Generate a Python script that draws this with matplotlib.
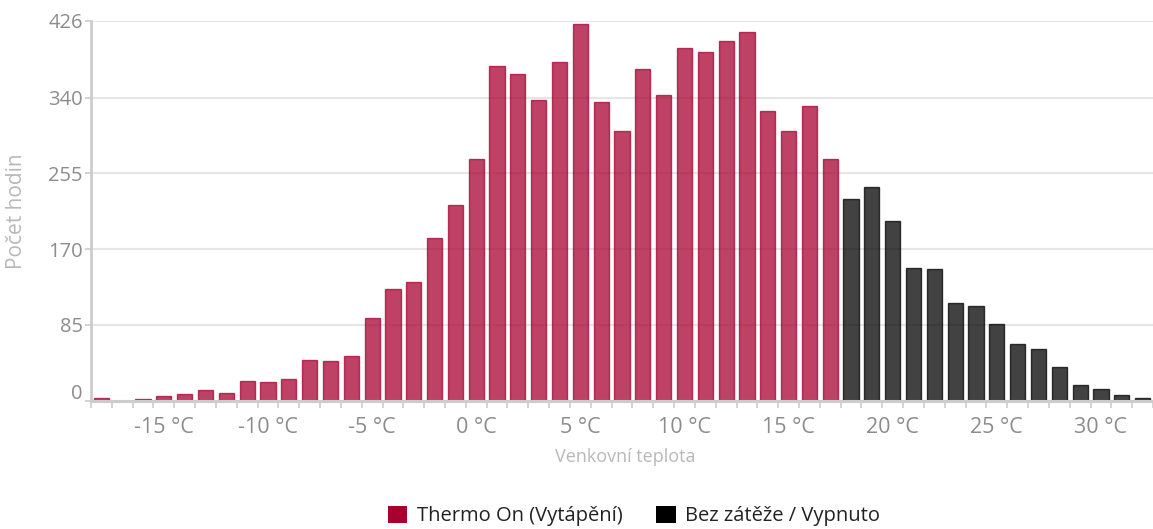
import matplotlib
matplotlib.use("Agg")
import matplotlib.pyplot as plt
from matplotlib.patches import Patch
import matplotlib.transforms as mtransforms
import numpy as np

plt.rcParams['font.family'] = ['Open Sans', 'DejaVu Sans']

temps = list(range(-18, 33))
heating_temps = list(range(-18, 18))
heating_hours = [3, 0, 2, 5, 7, 12, 9, 22, 21, 24, 46, 45, 50, 93, 125, 133, 183, 219,
                 271, 376, 367, 337, 380, 423, 335, 303, 372, 343, 396, 391, 404, 414,
                 325, 303, 331, 271]
off_temps = list(range(18, 33))
off_hours = [226, 240, 202, 149, 148, 109, 106, 86, 64, 58, 38, 17, 13, 6, 3]

y_ticks = [0, 85, 170, 255, 340, 426]
x_label_temps = [-15, -10, -5, 0, 5, 10, 15, 20, 25, 30]
x_tick_labels = [f"{t} °C" for t in x_label_temps]

series_names = ["Thermo On (Vytápění)", "Bez zátěže / Vypnuto"]
red = "#A8002F"
black = "#000000"

W, H = 1153, 529
fig = plt.figure(figsize=(W / 100, H / 100), dpi=100)
ax = fig.add_axes([91 / W, (H - 400.6) / H, 1 - 91 / W, (400.6 - 21) / H])

idx = {t: i for i, t in enumerate(temps)}
hx = [idx[t] for t in heating_temps]
ox = [idx[t] for t in off_temps]
bw = 0.73
ax.bar(hx, heating_hours, width=bw, color=red, alpha=0.74, edgecolor=red, linewidth=1.0, zorder=3)
ax.bar(ox, off_hours, width=bw, color=black, alpha=0.74, edgecolor=black, linewidth=1.0, zorder=3)

ax.set_xlim(-0.5, (W - 101.1) / 20.956)
ax.set_ylim(0, 426)

ax.set_yticks(y_ticks)
ax.set_yticklabels([str(v) for v in y_ticks])
ax.yaxis.grid(True, color="#E6E6E6", linewidth=1.5, zorder=0)
ax.tick_params(axis='y', length=4, width=1.2, color="#CCCCCC", pad=2,
               labelsize=14.5, labelcolor="#8C8C8C")
lbl0 = ax.get_yticklabels()[0]
lbl0.set_transform(lbl0.get_transform() + mtransforms.ScaledTranslation(0, 9 / 100, fig.dpi_scale_trans))

ax.set_xticks([idx[t] for t in x_label_temps])
ax.set_xticklabels(x_tick_labels)
ax.set_xticks(np.arange(-0.5, len(temps), 1.0), minor=True)
ax.tick_params(axis='x', which='major', length=0, pad=12, labelsize=15.5, labelcolor="#8C8C8C")
ax.tick_params(axis='x', which='minor', length=5, width=1.2, color="#CCCCCC")

for s in ['top', 'right']:
    ax.spines[s].set_visible(False)
ax.spines['left'].set_color("#CCCCCC")
ax.spines['left'].set_linewidth(2)
ax.spines['bottom'].set_color("#CCCCCC")
ax.spines['bottom'].set_linewidth(2.2)
ax.spines['bottom'].set_zorder(4)

fig.text(625 / W, 1 - 457 / H, "Venkovní teplota", ha='center', va='center',
         fontsize=13, color="#B8B8B8")
fig.text(17 / W, 1 - 211 / H, "Počet hodin", ha='center', va='center',
         rotation=90, fontsize=15, color="#B8B8B8")

handles = [Patch(facecolor=red, edgecolor='none'), Patch(facecolor=black, edgecolor='none')]
fig.legend(handles, series_names, loc='center', bbox_to_anchor=(634 / W, 1 - 516 / H),
           ncol=2, frameon=False, fontsize=14.5, handlelength=0.95, handleheight=0.95,
           handletextpad=0.45, columnspacing=1.7, labelcolor="#222222")

fig.savefig("out.png", dpi=100)
